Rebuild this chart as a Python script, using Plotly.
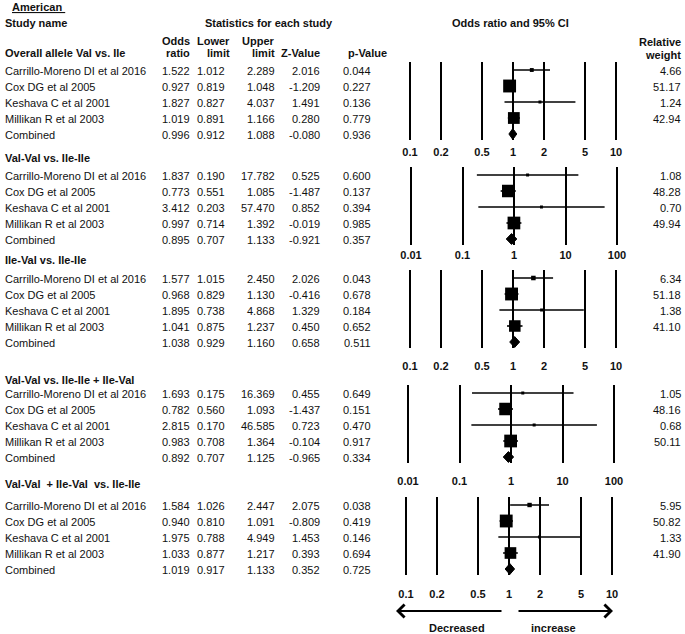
import plotly.graph_objects as go

W, H = 685, 634

studies = ["Carrillo-Moreno DI et al 2016", "Cox DG et al 2005", "Keshava C et al 2001",
           "Millikan R et al 2003", "Combined"]
panel_titles = ["Overall allele Val vs. Ile", "Val-Val vs. Ile-Ile", "Ile-Val vs. Ile-Ile",
                "Val-Val vs. Ile-Ile + Ile-Val", "Val-Val\u00a0\u00a0+ Ile-Val\u00a0 vs. Ile-Ile"]

odds = [[1.522, 0.927, 1.827, 1.019, 0.996],
        [1.837, 0.773, 3.412, 0.997, 0.895],
        [1.577, 0.968, 1.895, 1.041, 1.038],
        [1.693, 0.782, 2.815, 0.983, 0.892],
        [1.584, 0.940, 1.975, 1.033, 1.019]]
lower = [[1.012, 0.819, 0.827, 0.891, 0.912],
         [0.190, 0.551, 0.203, 0.714, 0.707],
         [1.015, 0.829, 0.738, 0.875, 0.929],
         [0.175, 0.560, 0.170, 0.708, 0.707],
         [1.026, 0.810, 0.788, 0.877, 0.917]]
upper = [[2.289, 1.048, 4.037, 1.166, 1.088],
         [17.782, 1.085, 57.470, 1.392, 1.133],
         [2.450, 1.130, 4.868, 1.237, 1.160],
         [16.369, 1.093, 46.585, 1.364, 1.125],
         [2.447, 1.091, 4.949, 1.217, 1.133]]
zval = [[2.016, -1.209, 1.491, 0.280, -0.080],
        [0.525, -1.487, 0.852, -0.019, -0.921],
        [2.026, -0.416, 1.329, 0.450, 0.658],
        [0.455, -1.437, 0.723, -0.104, -0.965],
        [2.075, -0.809, 1.453, 0.393, 0.352]]
pval = [[0.044, 0.227, 0.136, 0.779, 0.936],
        [0.600, 0.137, 0.394, 0.985, 0.357],
        [0.043, 0.678, 0.184, 0.652, 0.511],
        [0.649, 0.151, 0.470, 0.917, 0.334],
        [0.038, 0.419, 0.146, 0.694, 0.725]]
weights = [[4.66, 51.17, 1.24, 42.94],
           [1.08, 48.28, 0.70, 49.94],
           [6.34, 51.18, 1.38, 41.10],
           [1.05, 48.16, 0.68, 50.11],
           [5.95, 50.82, 1.33, 41.90]]

ticks_a = [0.1, 0.2, 0.5, 1, 2, 5, 10]
ticks_b = [0.01, 0.1, 1, 10, 100]
tick_sets = [ticks_a, ticks_b, ticks_a, ticks_b, ticks_a]

# layout geometry (pixels)
panel_top = [62, 167, 270, 385, 497]
title_y = [53, 158, 260, 380, 484]
centre_x = [513, 514, 513, 511, 509]
ppd = [103, 51.5, 103, 51.5, 103]
standoff = [4, 2, 10, 10, 11]
ROW = 16
PANEL_H = 78

FONT = "Liberation Sans, Arial, sans-serif"
INK = "#111111"

def px(x):
    return x / W

def py(y):
    return 1 - y / H

fig = go.Figure()
ann = []

def text(x, y, s, anchor="left", bold=False, size=11):
    ann.append(dict(x=px(x), y=py(y), xref="paper", yref="paper", text=s, showarrow=False,
                    xanchor=anchor, yanchor="middle",
                    font=dict(family=FONT, size=size, color=INK,
                              weight="bold" if bold else "normal")))

# headers
text(10, 7, "<u>American\u00a0</u>", bold=True)
text(3, 23, "Study name", bold=True)
text(269, 23, "Statistics for each study", anchor="center", bold=True)
text(510, 23, "Odds ratio and 95% CI", anchor="center", bold=True)
text(192, 41, "Odds", anchor="right", bold=True)
text(192, 53, "ratio", anchor="right", bold=True)
text(232, 41, "Lower", anchor="right", bold=True)
text(232, 53, "limit", anchor="right", bold=True)
text(277, 41, "Upper", anchor="right", bold=True)
text(277, 53, "limit", anchor="right", bold=True)
text(322, 53, "Z-Value", anchor="right", bold=True)
text(346, 53, "p-Value", anchor="left", bold=True)
text(683, 42, "Relative", anchor="right", bold=True)
text(683, 55, "weight", anchor="right", bold=True)

col_right = [192, 227, 277, 322, 373]

for k in range(5):
    ax_id = "" if k == 0 else str(k + 1)
    xa, ya = "x" + ax_id, "y" + ax_id
    top = panel_top[k]
    text(3, title_y[k], panel_titles[k], bold=True)
    for i, name in enumerate(studies):
        ry = top + 8 + i * ROW + 1
        text(3, ry, name)
        vals = [f"{odds[k][i]:.3f}", f"{lower[k][i]:.3f}", f"{upper[k][i]:.3f}",
                f"{zval[k][i]:.3f}", f"{pval[k][i]:.3f}"]
        for c, v in enumerate(vals):
            text(col_right[c], ry, v, anchor="right")
        if i < 4:
            text(683, ry, f"{weights[k][i]:.2f}", anchor="right")

    # CI lines
    lx, ly = [], []
    for i in range(4):
        lx += [lower[k][i], upper[k][i], None]
        ly += [i, i, None]
    fig.add_trace(go.Scatter(x=lx, y=ly, mode="lines", line=dict(color="black", width=1.6),
                             xaxis=xa, yaxis=ya, showlegend=False, hoverinfo="skip"))
    # squares
    fig.add_trace(go.Scatter(x=odds[k][:4], y=list(range(4)), mode="markers",
                             marker=dict(symbol="square", color="black", opacity=1,
                                         size=[max(3.0, 1.8 * w ** 0.5) for w in weights[k]],
                                         line=dict(width=0)),
                             xaxis=xa, yaxis=ya, showlegend=False, hoverinfo="skip"))
    # diamond
    fig.add_trace(go.Scatter(x=[lower[k][4], odds[k][4], upper[k][4], odds[k][4], lower[k][4]],
                             y=[4, 4 - 0.34, 4, 4 + 0.34, 4], mode="lines", fill="toself",
                             fillcolor="black", line=dict(color="black", width=1),
                             xaxis=xa, yaxis=ya, showlegend=False, hoverinfo="skip"))

    half = 115
    c = centre_x[k]
    fig.update_layout(**{
        "xaxis" + ax_id: dict(type="log", domain=[px(c - half), px(c + half)],
                              range=[-half / ppd[k], half / ppd[k]],
                              tickmode="array", tickvals=tick_sets[k],
                              ticktext=[f"{t:g}" for t in tick_sets[k]],
                              showgrid=True, gridcolor="black", gridwidth=1.8,
                              zeroline=False, showline=False, ticks="",
                              ticklabelstandoff=standoff[k],
                              tickfont=dict(family=FONT, size=11, color=INK, weight="bold"),
                              anchor=ya, fixedrange=True),
        "yaxis" + ax_id: dict(domain=[py(top + PANEL_H), py(top)], range=[4.375, -0.5],
                              showgrid=False, zeroline=False, showticklabels=False,
                              showline=False, anchor=xa, fixedrange=True),
    })

# direction arrows
ann.append(dict(x=px(396), y=py(611), xref="paper", yref="paper", ax=107, ay=0,
                showarrow=True, arrowhead=4, arrowsize=1.4, arrowwidth=1.8, arrowcolor="black",
                text=""))
ann.append(dict(x=px(613), y=py(611), xref="paper", yref="paper", ax=-96, ay=0,
                showarrow=True, arrowhead=4, arrowsize=1.4, arrowwidth=1.8, arrowcolor="black",
                text=""))
text(457, 628, "Decreased", anchor="center", bold=True)
text(553, 628, "increase", anchor="center", bold=True)

fig.update_layout(width=W, height=H, margin=dict(l=0, r=0, t=0, b=0),
                  plot_bgcolor="white", paper_bgcolor="white", annotations=ann,
                  showlegend=False)

fig.write_html("out.html", config={"displayModeBar": False},
               post_script="document.body.style.margin='0';document.body.style.overflow='hidden';")
